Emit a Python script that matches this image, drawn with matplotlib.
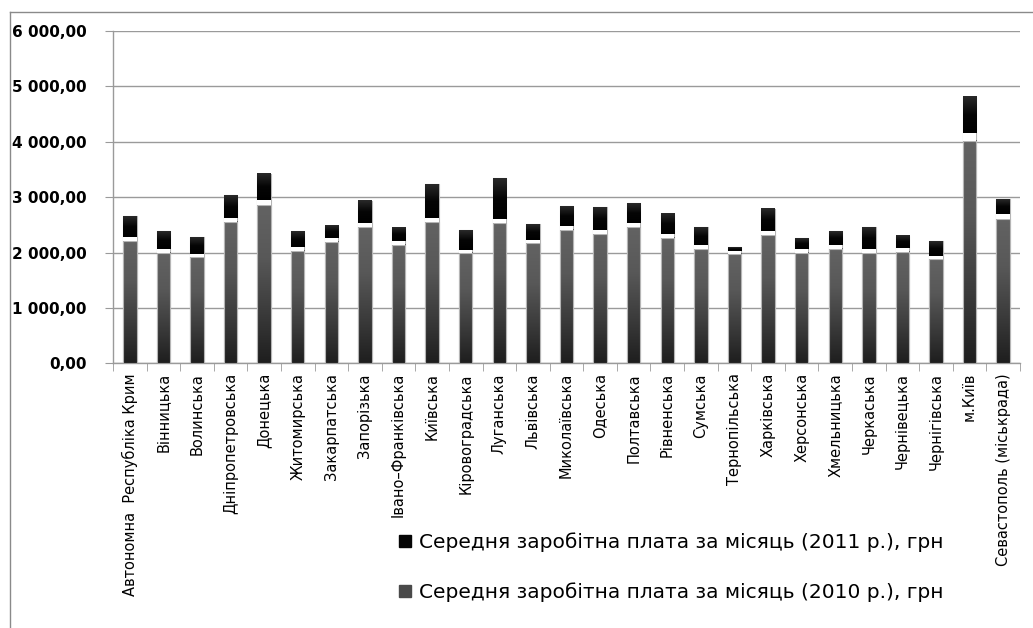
import numpy as np
import matplotlib
matplotlib.use("Agg")
import matplotlib.pyplot as plt
from matplotlib.colors import LinearSegmentedColormap
from matplotlib.lines import Line2D
from matplotlib.ticker import FixedLocator, FuncFormatter

# regions (x axis)
regions = [
    "Автономна  Республіка Крим", "Вінницька", "Волинська", "Дніпропетровська",
    "Донецька", "Житомирська", "Закарпатська", "Запорізька", "Івано–Франківська",
    "Київська", "Кіровоградська", "Луганська", "Львівська", "Миколаївська",
    "Одеська", "Полтавська", "Рівненська", "Сумська", "Тернопільська",
    "Харківська", "Херсонська", "Хмельницька", "Черкаська", "Чернівецька",
    "Чернігівська", "м.Київ", "Севастополь (міськрада)",
]

# average monthly wage, UAH
wage_2010 = [2283, 2060, 1982, 2632, 2944, 2103, 2258, 2536, 2204, 2632,
             2054, 2608, 2235, 2487, 2415, 2536, 2337, 2132, 2036, 2384,
             2060, 2132, 2060, 2085, 1941, 4155, 2697]
wage_2011 = [2662, 2384, 2283, 3041, 3420, 2384, 2487, 2939, 2439, 3240,
             2403, 3348, 2518, 2843, 2818, 2890, 2699, 2457, 2108, 2789,
             2258, 2384, 2457, 2307, 2210, 4808, 2967]

label_2011 = "Середня заробітна плата за місяць (2011 р.), грн"
label_2010 = "Середня заробітна плата за місяць (2010 р.), грн"

y_ticks = [0, 1000, 2000, 3000, 4000, 5000, 6000]

grey_cmap = LinearSegmentedColormap.from_list(
    "grey", ["#1e1e1e", "#3c3c3c", "#585858", "#636363"])
black_cmap = LinearSegmentedColormap.from_list(
    "blk", ["#000000", "#050505", "#2a2a2a"])
grad = np.linspace(0, 1, 256).reshape(-1, 1)

fig = plt.figure(figsize=(10.33, 6.28), dpi=100)
ax = fig.add_axes([113 / 1033, 1 - 363.3 / 628, (1020 - 113) / 1033, (363.3 - 31) / 628])

x = np.arange(len(regions))
w = 0.40
edge = "#b5b5b5"

# 2011 bars behind
blk = ax.bar(x, wage_2011, width=w, color="#000000", edgecolor=edge,
             linewidth=0.8, zorder=2)
# 2010 bars in front, top band left white
band = [v * 0.032 for v in wage_2010]
grey_h = [v - b for v, b in zip(wage_2010, band)]
gry = ax.bar(x, grey_h, width=w, color="none", edgecolor=edge,
             linewidth=0.8, zorder=4)
ax.bar(x, band, bottom=grey_h, width=w, color="white", edgecolor="none",
       zorder=4)

# gradient fills
for pb, pg, v10 in zip(blk, gry, wage_2010):
    x0 = pg.get_x()
    x1 = x0 + pg.get_width()
    ax.imshow(grad, extent=[x0, x1, 0, pg.get_height()], origin="lower",
              cmap=grey_cmap, aspect="auto", zorder=3, interpolation="bilinear")
    ax.imshow(grad, extent=[x0, x1, v10, pb.get_height()], origin="lower",
              cmap=black_cmap, aspect="auto", zorder=2.5, interpolation="bilinear")

ax.set_xlim(-0.5, len(regions) - 0.5)
ax.set_ylim(0, 6000)

ax.set_yticks(y_ticks)
ax.yaxis.set_major_formatter(
    FuncFormatter(lambda v, p: f"{v:,.2f}".replace(",", " ").replace(".", ",")))
ax.tick_params(axis="y", length=6, color="#9a9a9a", pad=13, labelsize=11)
for t in ax.get_yticklabels():
    t.set_fontweight("bold")

ax.set_xticks(x)
ax.set_xticklabels(regions, rotation=90, fontsize=10.5, va="top", ha="center")
ax.tick_params(axis="x", which="major", length=0, pad=7)
ax.xaxis.set_minor_locator(FixedLocator(np.arange(-0.5, len(regions), 1)))
ax.tick_params(axis="x", which="minor", length=6, color="#9a9a9a")

ax.grid(axis="y", color="#9a9a9a", linewidth=1, zorder=0)
ax.set_axisbelow(True)
for s in ["top", "right"]:
    ax.spines[s].set_visible(False)
for s in ["left", "bottom"]:
    ax.spines[s].set_color("#9a9a9a")
    ax.spines[s].set_linewidth(1)

handles = [
    Line2D([], [], linestyle="none", marker="s", markersize=9,
           markerfacecolor="#050505", markeredgecolor="#050505"),
    Line2D([], [], linestyle="none", marker="s", markersize=9,
           markerfacecolor="#4a4a4a", markeredgecolor="#4a4a4a"),
]
fig.legend(handles, [label_2011, label_2010], loc="center left",
           bbox_to_anchor=(397 / 1033, 1 - 567 / 628), frameon=False,
           prop={"family": "DejaVu Sans", "size": 14.5}, handlelength=0.8,
           handletextpad=0.3, labelspacing=1.5, borderpad=0, borderaxespad=0)

# outer frame (only left and top edges visible)
fig.add_artist(Line2D([9.5 / 1033, 9.5 / 1033], [0, 1 - 11.5 / 628],
                      transform=fig.transFigure, color="#8a8a8a", linewidth=1))
fig.add_artist(Line2D([9.5 / 1033, 1], [1 - 11.5 / 628, 1 - 11.5 / 628],
                      transform=fig.transFigure, color="#8a8a8a", linewidth=1))

fig.savefig("out.png", dpi=100)
